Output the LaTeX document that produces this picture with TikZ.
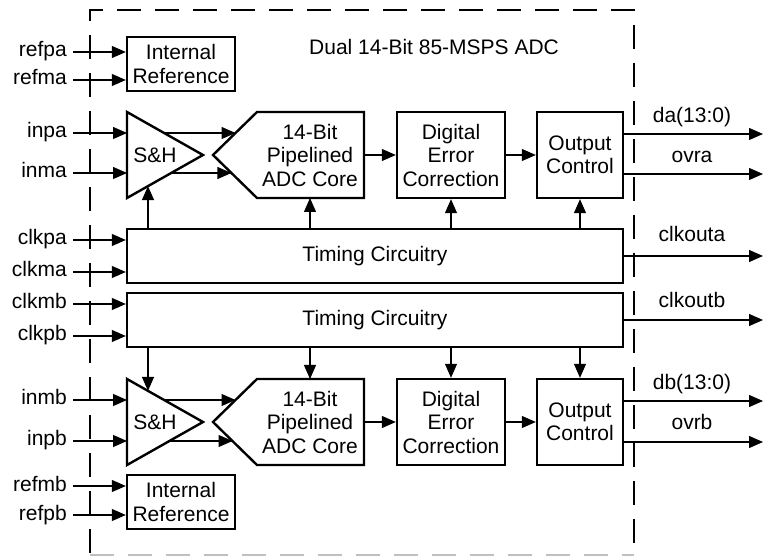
\documentclass[tikz,border=0pt]{standalone}
\usepackage{fontspec}
\setmainfont{Liberation Sans}
\usetikzlibrary{arrows.meta}
\newcommand{\dfont}{\fontsize{21}{23.5}\selectfont}
\begin{document}
\begin{tikzpicture}[x=1pt,y=-1pt,
  blk/.style={draw, line width=2.4pt, align=center, inner sep=0pt, font=\dfont},
  shp/.style={line width=2.4pt, line join=miter},
  txt/.style={align=center, inner sep=0pt, font=\dfont},
  arr/.style={line width=1.2pt, -{Triangle[length=14pt,width=12pt]}},
  lbl/.style={anchor=east, inner sep=0pt, text height=14pt, text depth=4pt, font=\dfont},
  olbl/.style={anchor=base, inner sep=0pt, font=\dfont},
  bord/.style={line width=1.2pt, dash pattern=on 24pt off 14pt}
]
\useasboundingbox (0,0) rectangle (764,556);
% border
\draw[bord] (90,553) -- (90,10) -- (634,10) -- (634,548);
\draw[bord, black!25, line width=2pt] (90,555) -- (634,555);
\coordinate (rEdge) at (763,0);

\node[anchor=base west, inner sep=0pt, font=\dfont] (title) at (309,55) {Dual 14-Bit 85-MSPS ADC};

% ---------- channel A ----------
\node[blk, minimum width=108pt, minimum height=54pt] (irefA) at (181,64) {Internal\\Reference};
\node[blk, minimum width=496pt, minimum height=54pt] (timA) at (375,256) {Timing Circuitry};
\node[blk, minimum width=108pt, minimum height=86pt] (decA) at (451,155) {Digital\\Error\\Correction};
\node[blk, minimum width=86pt, minimum height=86pt] (ocA) at (580,155) {Output\\Control};

\coordinate (shA-tl) at (127,112);
\coordinate (shA-tip) at (203,155);
\coordinate (shA-bl) at (127,198);
\draw[shp] (shA-tl) -- (shA-tip) -- (shA-bl) -- cycle;
\node[txt] (shA) at (155,155) {S\&H};
\coordinate (shA-o1) at (164.2,133);
\coordinate (shA-o2) at (170,173);
\coordinate (shA-clk) at (148,186.1);

\coordinate (adcA-tl) at (257,112);
\coordinate (adcA-tr) at (364,112);
\coordinate (adcA-br) at (364,198);
\coordinate (adcA-bl) at (257,198);
\coordinate (adcA-n) at (213,155);
\draw[shp] (adcA-tl) -- (adcA-tr) -- (adcA-br) -- (adcA-bl) -- (adcA-n) -- cycle;
\node[txt] (adcA) at (310,155) {14-Bit\\Pipelined\\ADC Core};
\coordinate (adcA-i1) at (235.5,133);
\coordinate (adcA-i2) at (231.4,173);
\coordinate (adcA-e) at (364,155);
\coordinate (adcA-s) at (310,198);

\node[lbl] (refpa) at (67,52) {refpa};
\node[lbl] (refma) at (67,80) {refma};
\node[lbl] (inpa) at (67,133) {inpa};
\node[lbl] (inma) at (67,173) {inma};
\node[lbl] (clkpa) at (67,240) {clkpa};
\node[lbl] (clkma) at (67,272) {clkma};

\draw[arr] ([xshift=6pt]refpa.east) -- (refpa.east -| irefA.west);
\draw[arr] ([xshift=6pt]refma.east) -- (refma.east -| irefA.west);
\draw[arr] ([xshift=6pt]inpa.east) -- (inpa.east -| shA-tl);
\draw[arr] ([xshift=6pt]inma.east) -- (inma.east -| shA-tl);
\draw[arr] ([xshift=6pt]clkpa.east) -- (clkpa.east -| timA.west);
\draw[arr] ([xshift=6pt]clkma.east) -- (clkma.east -| timA.west);

\draw[arr] (shA-o1) -- (adcA-i1);
\draw[arr] (shA-o2) -- (adcA-i2);
\draw[arr] (adcA-e) -- (adcA-e -| decA.west);
\draw[arr] (decA.east |- adcA-e) -- (adcA-e -| ocA.west);
\draw[arr] (timA.north -| shA-clk) -- (shA-clk);
\draw[arr] (timA.north -| adcA-s) -- (adcA-s);
\draw[arr] (timA.north -| decA.south) -- (decA.south);
\draw[arr] (timA.north -| ocA.south) -- (ocA.south);

\draw[arr] ([yshift=21pt]ocA.east) -- ([yshift=21pt]ocA.east -| rEdge);
\draw[arr] ([yshift=-19pt]ocA.east) -- ([yshift=-19pt]ocA.east -| rEdge);
\draw[arr] (timA.east) -- (timA.east -| rEdge);
\node[olbl] (da) at (692,123) {da(13:0)};
\node[olbl] (ovra) at (692,163) {ovra};
\node[olbl] (clkouta) at (692,242) {clkouta};

% ---------- channel B ----------
\node[blk, minimum width=496pt, minimum height=54pt] (timB) at (375,320) {Timing Circuitry};
\node[blk, minimum width=108pt, minimum height=86pt] (decB) at (451,422) {Digital\\Error\\Correction};
\node[blk, minimum width=86pt, minimum height=86pt] (ocB) at (580,422) {Output\\Control};
\node[blk, minimum width=108pt, minimum height=54pt] (irefB) at (181,502) {Internal\\Reference};

\coordinate (shB-tl) at (127,379);
\coordinate (shB-tip) at (203,422);
\coordinate (shB-bl) at (127,465);
\draw[shp] (shB-tl) -- (shB-tip) -- (shB-bl) -- cycle;
\node[txt] (shB) at (155,422) {S\&H};
\coordinate (shB-o1) at (164.2,400);
\coordinate (shB-o2) at (168.4,441);
\coordinate (shB-clk) at (148,390.9);

\coordinate (adcB-tl) at (257,379);
\coordinate (adcB-tr) at (364,379);
\coordinate (adcB-br) at (364,465);
\coordinate (adcB-bl) at (257,465);
\coordinate (adcB-n) at (213,422);
\draw[shp] (adcB-tl) -- (adcB-tr) -- (adcB-br) -- (adcB-bl) -- (adcB-n) -- cycle;
\node[txt] (adcB) at (310,422) {14-Bit\\Pipelined\\ADC Core};
\coordinate (adcB-i1) at (235.5,400);
\coordinate (adcB-i2) at (232.5,441);
\coordinate (adcB-e) at (364,422);
\coordinate (adcB-n2) at (310,379);

\node[lbl] (clkmb) at (67,304) {clkmb};
\node[lbl] (clkpb) at (67,336) {clkpb};
\node[lbl] (inmb) at (67,400) {inmb};
\node[lbl] (inpb) at (67,441) {inpb};
\node[lbl] (refmb) at (67,486) {refmb};
\node[lbl] (refpb) at (67,515) {refpb};

\draw[arr] ([xshift=6pt]clkmb.east) -- (clkmb.east -| timB.west);
\draw[arr] ([xshift=6pt]clkpb.east) -- (clkpb.east -| timB.west);
\draw[arr] ([xshift=6pt]inmb.east) -- (inmb.east -| shB-tl);
\draw[arr] ([xshift=6pt]inpb.east) -- (inpb.east -| shB-tl);
\draw[arr] ([xshift=6pt]refmb.east) -- (refmb.east -| irefB.west);
\draw[arr] ([xshift=6pt]refpb.east) -- (refpb.east -| irefB.west);

\draw[arr] (shB-o1) -- (adcB-i1);
\draw[arr] (shB-o2) -- (adcB-i2);
\draw[arr] (adcB-e) -- (adcB-e -| decB.west);
\draw[arr] (decB.east |- adcB-e) -- (adcB-e -| ocB.west);
\draw[arr] (timB.south -| shB-clk) -- (shB-clk);
\draw[arr] (timB.south -| adcB-n2) -- (adcB-n2);
\draw[arr] (timB.south -| decB.north) -- (decB.north);
\draw[arr] (timB.south -| ocB.north) -- (ocB.north);

\draw[arr] (timB.east) -- (timB.east -| rEdge);
\draw[arr] ([yshift=21pt]ocB.east) -- ([yshift=21pt]ocB.east -| rEdge);
\draw[arr] ([yshift=-20pt]ocB.east) -- ([yshift=-20pt]ocB.east -| rEdge);
\node[olbl] (clkoutb) at (692,308) {clkoutb};
\node[olbl] (db) at (692,390) {db(13:0)};
\node[olbl] (ovrb) at (692,429) {ovrb};
\end{tikzpicture}
\end{document}
